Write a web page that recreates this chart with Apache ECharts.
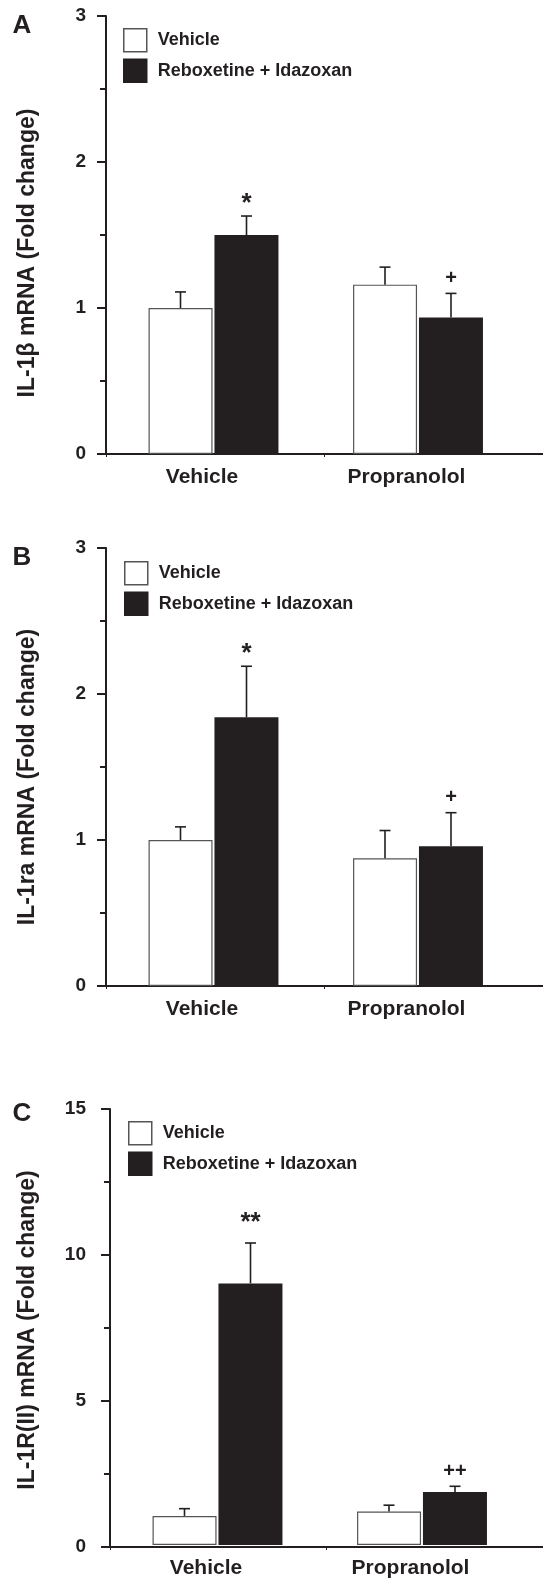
<!DOCTYPE html>
<html>
<head>
<meta charset="utf-8">
<script src="https://cdn.jsdelivr.net/npm/echarts@6/dist/echarts.min.js"></script>
<style>
html,body{margin:0;padding:0;background:#fff;}
#chart{width:543px;height:1579px;}
</style>
</head>
<body>
<div id="chart"></div>
<script>
// ---- data ----
const categories = ['Vehicle', 'Propranolol'];
const seriesNames = ['Vehicle', 'Reboxetine + Idazoxan'];
const panelLetters = ['A', 'B', 'C'];
const yTitles = ['IL-1\u03b2 mRNA (Fold change)', 'IL-1ra mRNA (Fold change)', 'IL-1R(II) mRNA (Fold change)'];
const yMax = [3, 3, 15];
const yStep = [1, 1, 5];

// Panel A: IL-1beta
const aVehicle = [1.0, 1.16];
const aVehicleSem = [0.11, 0.12];
const aRebox = [1.5, 0.935];
const aReboxSem = [0.13, 0.165];
const aReboxSig = ['*', '+'];

// Panel B: IL-1ra
const bVehicle = [1.0, 0.875];
const bVehicleSem = [0.09, 0.19];
const bRebox = [1.84, 0.957];
const bReboxSem = [0.35, 0.23];
const bReboxSig = ['*', '+'];

// Panel C: IL-1R(II)
const cVehicle = [1.0, 1.15];
const cVehicleSem = [0.25, 0.22];
const cRebox = [9.0, 1.82];
const cReboxSem = [1.39, 0.2];
const cReboxSig = ['**', '++'];

// ---- layout / style ----
const ink = '#231f20';
const FONT = '"Liberation Sans", Arial, Helvetica, sans-serif';
const panels = [
  {veh: aVehicle, vehSem: aVehicleSem, reb: aRebox, rebSem: aReboxSem, sig: aReboxSig, starLift: 12,
   top: 16, axisX: 106, labelMargin: 20, nameGap: 67, namePad: [0, 36, 0, 0], legendLeft: 118, legendTop: 23, letterY: 26},
  {veh: bVehicle, vehSem: bVehicleSem, reb: bRebox, rebSem: bReboxSem, sig: bReboxSig, starLift: 12,
   top: 548, axisX: 106, labelMargin: 20, nameGap: 67, namePad: [0, 20, 0, 0], legendLeft: 119, legendTop: 556, letterY: 558},
  {veh: cVehicle, vehSem: cVehicleSem, reb: cRebox, rebSem: cReboxSem, sig: cReboxSig, starLift: 20,
   top: 1109, axisX: 110, labelMargin: 24, nameGap: 71, namePad: [0, 4, 0, 0], legendLeft: 123, legendTop: 1116, letterY: 1114}
];
const plotH = 438;
const barW = 64;
const catW = 204.5;

const grid = [], xAxis = [], yAxis = [], series = [], legend = [], graphic = [];

function errSeries(P, gi, means, sems, side, sig) {
  const data = means.map((m, i) => [i, m + sems[i], m]);
  return {
    type: 'custom', xAxisIndex: gi, yAxisIndex: gi, z: 5, clip: false, silent: true,
    data: data,
    renderItem: function (params, api) {
      const top = api.coord([api.value(0), api.value(1)]);
      const base = api.coord([api.value(0), api.value(2)]);
      const x = top[0] + side * (barW / 2 + 1);
      const children = [
        {type: 'line', shape: {x1: x, y1: base[1], x2: x, y2: top[1]}, style: {stroke: ink, lineWidth: 1.6}},
        {type: 'line', shape: {x1: x - 5.5, y1: top[1], x2: x + 5.5, y2: top[1]}, style: {stroke: ink, lineWidth: 1.6}}
      ];
      const s = sig ? sig[params.dataIndex] : '';
      if (s) {
        const star = s.indexOf('*') >= 0;
        children.push({type: 'text', x: x, y: top[1] - (star ? P.starLift : 15),
          style: {text: s, fill: ink, font: 'bold ' + (star ? 26 : 20) + 'px ' + FONT, align: 'center', verticalAlign: 'middle'}});
      }
      return {type: 'group', children: children};
    }
  };
}

panels.forEach((P, k) => {
  const gLine = 2 * k, gBar = 2 * k + 1;
  const groupLeft = P.axisX + 5.25;
  grid.push({left: P.axisX, right: 0, top: P.top, height: plotH});
  grid.push({left: groupLeft, width: catW * 2, top: P.top, height: plotH});
  xAxis.push({gridIndex: gLine, type: 'category', data: categories,
    axisLine: {show: true, lineStyle: {color: ink, width: 2}},
    axisTick: {show: true, length: 3, lineStyle: {color: ink, width: 1}},
    axisLabel: {show: false}, splitLine: {show: false}});
  xAxis.push({gridIndex: gBar, type: 'category', data: categories,
    axisLine: {show: false}, axisTick: {show: false},
    axisLabel: {show: true, fontSize: 21, fontWeight: 'bold', color: ink, fontFamily: FONT, margin: 13, padding: [0, 23, 0, 0]},
    splitLine: {show: false}});
  yAxis.push({gridIndex: gLine, type: 'value', min: 0, max: yMax[k], interval: yStep[k],
    axisLine: {show: true, lineStyle: {color: ink, width: 2}},
    axisTick: {show: true, length: 9, lineStyle: {color: ink, width: 2}},
    minorTick: {show: true, splitNumber: 2, length: 6, lineStyle: {color: ink, width: 2}},
    axisLabel: {fontSize: 19, fontWeight: 'bold', color: ink, fontFamily: FONT, margin: P.labelMargin},
    splitLine: {show: false},
    name: yTitles[k], nameLocation: 'middle', nameRotate: 90, nameGap: P.nameGap,
    nameTextStyle: {fontSize: 23, fontWeight: 'bold', color: ink, fontFamily: FONT, padding: P.namePad}});
  yAxis.push({gridIndex: gBar, type: 'value', min: 0, max: yMax[k], interval: yStep[k], show: false});

  series.push({type: 'bar', name: seriesNames[0], xAxisIndex: gBar, yAxisIndex: gBar, data: P.veh,
    barWidth: barW, barGap: '3%', itemStyle: {color: '#ffffff', borderColor: '#555', borderWidth: 1.2}, silent: true});
  series.push({type: 'bar', name: seriesNames[1], xAxisIndex: gBar, yAxisIndex: gBar, data: P.reb,
    barWidth: barW, barGap: '3%', itemStyle: {color: ink, borderColor: ink, borderWidth: 0}, silent: true});
  series.push(errSeries(P, gBar, P.veh, P.vehSem, -1, null));
  series.push(errSeries(P, gBar, P.reb, P.rebSem, 1, P.sig));

  legend.push({data: seriesNames, orient: 'vertical', left: P.legendLeft, top: P.legendTop,
    itemWidth: 23, itemHeight: 23, itemGap: 6, icon: 'rect', selectedMode: false,
    itemStyle: {borderWidth: 1.5},
    textStyle: {fontSize: 18, fontWeight: 'bold', color: ink, fontFamily: FONT, padding: [0, 0, 0, 6]}});

  graphic.push({type: 'text', x: 22, y: P.letterY,
    style: {text: panelLetters[k], fill: ink, font: 'bold 26px ' + FONT, align: 'center', verticalAlign: 'middle'}});
});

const chart = echarts.init(document.getElementById('chart'), null, {renderer: 'canvas'});
chart.setOption({
  backgroundColor: '#ffffff',
  animation: false,
  textStyle: {fontFamily: FONT},
  grid: grid, xAxis: xAxis, yAxis: yAxis, series: series, legend: legend, graphic: graphic
});
</script>
</body>
</html>
